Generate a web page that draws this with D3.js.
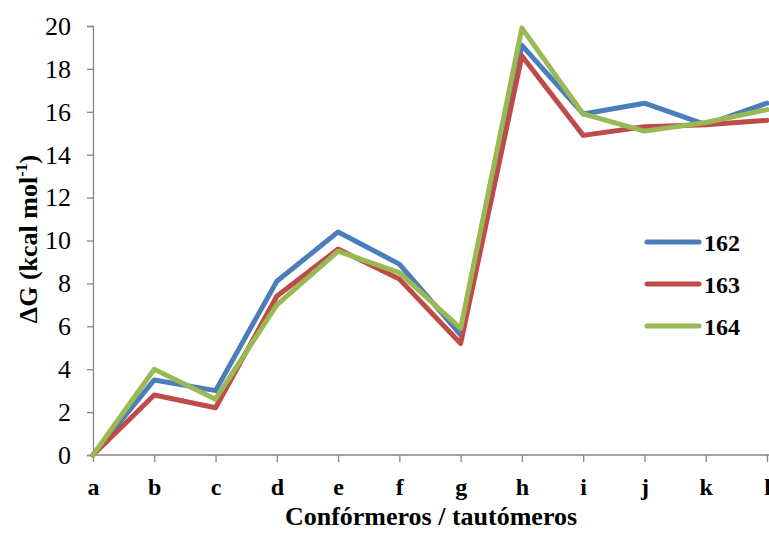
<!DOCTYPE html>
<html>
<head>
<meta charset="utf-8">
<script src="https://cdn.jsdelivr.net/npm/d3@7"></script>
<style>
  html, body { margin: 0; padding: 0; background: #fff; }
  svg { display: block; }
  svg text { font-family: "Liberation Serif", "Times New Roman", serif; }
</style>
</head>
<body>
<svg id="chart" width="769" height="536"></svg>
<script>
// Conformer / tautomer labels
const categories = ["a", "b", "c", "d", "e", "f", "g", "h", "i", "j", "k", "l"];
// Relative free energies (kcal/mol) for each compound
const series162 = [0, 3.5, 3.0, 8.1, 10.4, 8.9, 5.6, 19.1, 15.9, 16.4, 15.4, 16.4];
const series163 = [0, 2.8, 2.2, 7.4, 9.6, 8.2, 5.2, 18.6, 14.9, 15.3, 15.4, 15.6];
const series164 = [0, 4.0, 2.6, 7.0, 9.5, 8.5, 5.9, 19.9, 15.9, 15.1, 15.5, 16.1];
const seriesNames = ["162", "163", "164"];
const seriesColors = ["#4a7ebb", "#be4b48", "#98b954"];
const yTicks = [0, 2, 4, 6, 8, 10, 12, 14, 16, 18, 20];

const seriesData = [series162, series163, series164];

const svg = d3.select("#chart");
const margin = { left: 93, right: 2, top: 26, bottom: 81 };
const W = 769, H = 536;

const x = d3.scalePoint().domain(categories).range([margin.left, W - margin.right]);
const y = d3.scaleLinear().domain([0, 20]).range([H - margin.bottom, margin.top]);

const axisColor = "#868686";
const serif = "Liberation Serif, Times New Roman, serif";

// Y axis
const yAxis = svg.append("g")
  .attr("transform", `translate(${margin.left},0)`)
  .call(d3.axisLeft(y).tickValues(yTicks).tickSize(6).tickPadding(16).tickFormat(d3.format("d")));
yAxis.attr("font-family", null);
yAxis.select(".domain").attr("stroke", axisColor).attr("stroke-width", 1.3);
yAxis.selectAll(".tick line").attr("stroke", axisColor).attr("stroke-width", 1.3);
yAxis.selectAll(".tick text")
  .style("font-family", serif).style("font-size", "26px").attr("fill", "#000");

// X axis
const xAxis = svg.append("g")
  .attr("transform", `translate(0,${y(0)})`)
  .call(d3.axisBottom(x).tickSize(7).tickPadding(16).tickSizeOuter(0));
xAxis.attr("font-family", null);
xAxis.select(".domain").attr("stroke", axisColor).attr("stroke-width", 1.3)
  .attr("d", `M${margin.left},0H${W}`);
xAxis.selectAll(".tick line").attr("stroke", axisColor).attr("stroke-width", 1.3);
xAxis.selectAll(".tick text")
  .style("font-family", serif).style("font-size", "24px").style("font-weight", "bold").attr("fill", "#000");

// Series lines
const line = d3.line()
  .x((d, i) => x(categories[i]))
  .y(d => y(d));

seriesData.forEach((vals, k) => {
  svg.append("path")
    .datum(vals)
    .attr("fill", "none")
    .attr("stroke", seriesColors[k])
    .attr("stroke-width", 5)
    .attr("stroke-linejoin", "round")
    .attr("stroke-linecap", "round")
    .attr("d", line);
});

// Axis titles
svg.append("text")
  .attr("x", 431).attr("y", 525)
  .attr("text-anchor", "middle")
  .style("font-family", serif).style("font-size", "26px").style("font-weight", "bold")
  .text("Confórmeros / tautómeros");

const yTitle = svg.append("text")
  .attr("transform", `translate(37,239) rotate(-90)`)
  .attr("text-anchor", "middle")
  .style("font-family", serif).style("font-size", "26px").style("font-weight", "bold");
yTitle.append("tspan").text("ΔG (kcal mol");
yTitle.append("tspan").style("font-size", "16px").attr("dy", -10).text("-1");
yTitle.append("tspan").attr("dy", 10).text(")");

// Legend
const legend = svg.append("g");
seriesNames.forEach((name, k) => {
  const ly = 242 + k * 42;
  legend.append("line")
    .attr("x1", 647).attr("x2", 699).attr("y1", ly).attr("y2", ly)
    .attr("stroke", seriesColors[k]).attr("stroke-width", 5).attr("stroke-linecap", "round");
  legend.append("text")
    .attr("x", 704).attr("y", ly + 9)
    .style("font-family", serif).style("font-size", "24px").style("font-weight", "bold")
    .text(name);
});
</script>
</body>
</html>
